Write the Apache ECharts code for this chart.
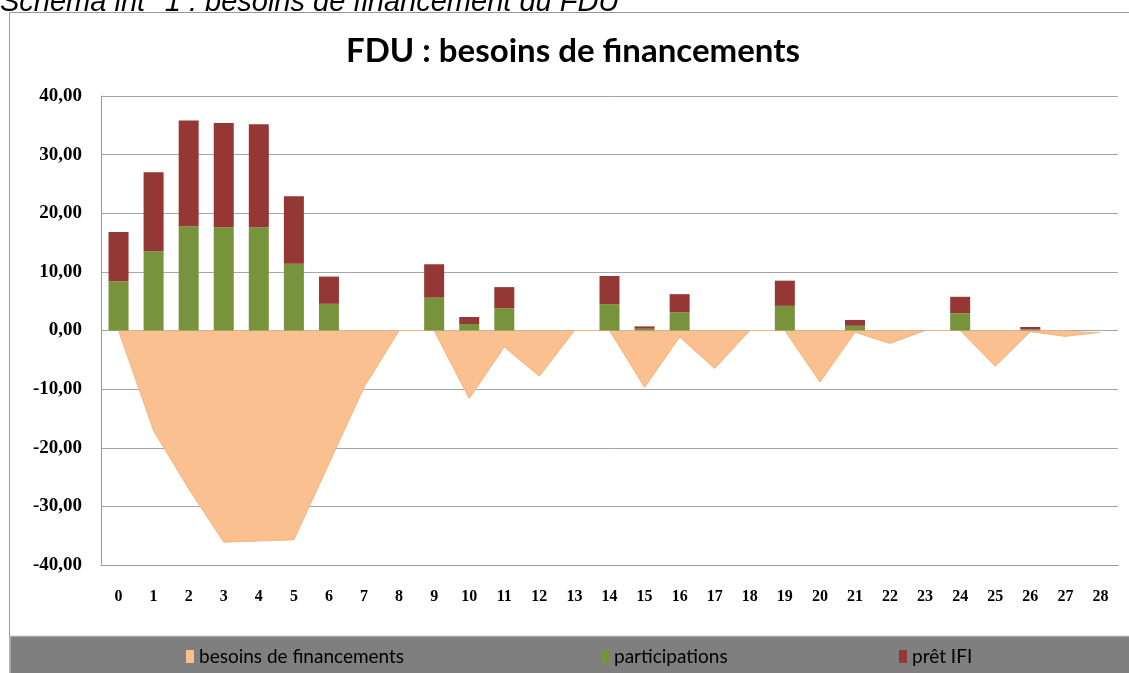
<!DOCTYPE html>
<html>
<head>
<meta charset="utf-8">
<script src="https://cdn.jsdelivr.net/npm/echarts@6/dist/echarts.min.js"></script>
<style>
html,body{margin:0;padding:0;background:#fff;}
#chart{width:1129px;height:673px;}
</style>
</head>
<body>
<div id="chart"></div>
<script>
var categories = ['0','1','2','3','4','5','6','7','8','9','10','11','12','13','14','15','16','17','18','19','20','21','22','23','24','25','26','27','28'];
var besoins = [0,-17.1,-27,-36.1,-35.9,-35.7,-22.7,-9.7,0,0,-11.6,-2.8,-7.8,0,0,-9.7,-1.1,-6.5,0,0,-8.8,-0.3,-2.2,0,0,-6.1,-0.2,-1.0,-0.3];
var participations = [8.4,13.5,17.8,17.6,17.6,11.4,4.55,0,0,5.6,1.1,3.8,0,0,4.5,0.3,3.1,0,0,4.2,0,0.8,0,0,2.95,0,0.2,0,0];
var pretIFI = [8.4,13.5,18.0,17.8,17.6,11.5,4.65,0,0,5.7,1.2,3.6,0,0,4.8,0.4,3.1,0,0,4.3,0,1.0,0,0,2.8,0,0.4,0,0];
var yTicks = {min:-40, max:40, interval:10};

var chart = echarts.init(document.getElementById('chart'));
var legendText = {color:'#000', fontSize:19, fontFamily:'Lato, "Noto Sans", sans-serif'};
chart.setOption({
  animation:false,
  backgroundColor:'#fff',
  graphic:[
    {type:'rect', shape:{x:9.5, y:12.5, width:1130, height:670}, style:{fill:'#fff', stroke:'#9a9a9a', lineWidth:1}, z:-10},
    {type:'rect', shape:{x:10, y:636, width:1125, height:40}, style:{fill:'#7f7f7f', stroke:'#cfcfcf', lineWidth:1}, z:-9},
    {type:'text', x:0, y:-12, style:{text:'Schéma int° 1 : besoins de financement du FDU', fill:'#000', font:'italic 29px "Liberation Sans", Arial, sans-serif', verticalAlign:'top'}, z:-8}
  ],
  title:{
    text:'FDU : besoins de financements',
    left:568, textAlign:'center', top:30,
    textStyle:{fontSize:33, fontWeight:'bold', color:'#000', fontFamily:'Lato, "Noto Sans", sans-serif'}
  },
  legend:[
    {data:['besoins de financements'], left:181, top:642, itemWidth:8, itemHeight:13, icon:'rect', textStyle:legendText, itemGap:2},
    {data:['participations'], left:596, top:642, itemWidth:8, itemHeight:13, icon:'rect', textStyle:legendText},
    {data:['prêt IFI'], left:894, top:642, itemWidth:8, itemHeight:13, icon:'rect', textStyle:legendText}
  ],
  grid:{left:101, right:11, top:96, bottom:108},
  xAxis:{
    type:'category', data:categories, boundaryGap:true,
    axisLine:{onZero:false, lineStyle:{color:'#999'}},
    axisTick:{show:false},
    axisLabel:{color:'#000', fontWeight:'bold', fontSize:16, fontFamily:'"Liberation Serif", serif', margin:24, interval:0}
  },
  yAxis:{
    type:'value', min:yTicks.min, max:yTicks.max, interval:yTicks.interval,
    axisLine:{show:true, lineStyle:{color:'#999'}},
    axisTick:{show:false},
    splitLine:{lineStyle:{color:'#a6a6a6', width:1}},
    axisLabel:{color:'#000', fontWeight:'bold', fontSize:19, fontFamily:'"Liberation Serif", serif', margin:19,
      formatter:function(v){return v.toFixed(2).replace('.',',');}}
  },
  series:[
    {name:'besoins de financements', type:'line', data:besoins, symbol:'none',
      lineStyle:{color:'#f7b37c', width:1}, itemStyle:{color:'#fac090'},
      areaStyle:{color:'#fac090', opacity:1}, z:1},
    {name:'participations', type:'bar', stack:'fin', data:participations, barWidth:20,
      itemStyle:{color:'#77933c'}, z:2},
    {name:'prêt IFI', type:'bar', stack:'fin', data:pretIFI, barWidth:20,
      itemStyle:{color:'#953735'}, z:2}
  ]
});
</script>
</body>
</html>
